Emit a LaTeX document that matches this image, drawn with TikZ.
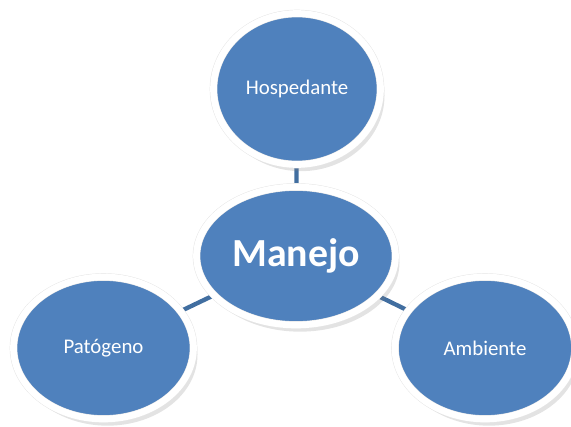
\documentclass[tikz,border=0pt]{standalone}
\usepackage{fontspec}
\setmainfont{Carlito}
\usetikzlibrary{shapes.geometric,shadows,backgrounds}
\definecolor{bubbleblue}{RGB}{79,129,189}
\definecolor{linkblue}{RGB}{65,110,160}

\begin{document}
\begin{tikzpicture}[x=0.03cm,y=-0.03cm,
  bubble/.style={ellipse, fill=bubbleblue, draw=black!10, line width=0.4pt,
    double=white, double distance=0.2cm, text=white,
    font=\fontsize{17.8}{20}\selectfont,
    drop shadow={opacity=0.22, shadow xshift=0.12cm, shadow yshift=-0.2cm}},
  link/.style={draw=linkblue, line width=0.13cm}]
\useasboundingbox (0,0) rectangle (571,426);

% center
\node[bubble, minimum width=5.97cm, minimum height=4.14cm,
  font=\fontsize{34}{38}\selectfont\bfseries] (manejo) at (296,256) {Manejo};

% the three around it
\node[bubble, minimum width=5.01cm, minimum height=4.53cm] (hosp) at (297,89) {Hospedante};
\node[bubble, minimum width=5.4cm, minimum height=4.26cm] (pat) at (103.5,348) {Patógeno};
\node[bubble, minimum width=5.4cm, minimum height=4.26cm] (amb) at (485,348) {Ambiente};

% links behind
\begin{scope}[on background layer]
\draw[link] (manejo) -- (hosp);
\draw[link] (manejo) -- (pat);
\draw[link] (manejo) -- (amb);
\end{scope}
\end{tikzpicture}
\end{document}
